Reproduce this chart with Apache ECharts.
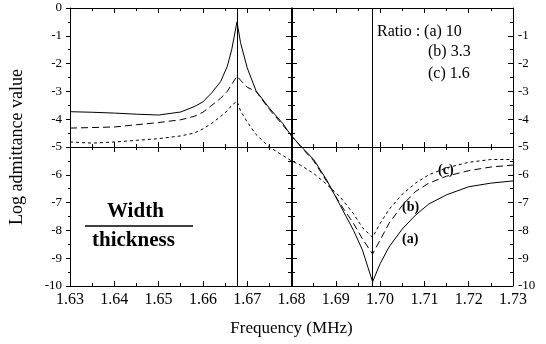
<!DOCTYPE html>
<html>
<head>
<meta charset="utf-8">
<script src="https://cdn.jsdelivr.net/npm/echarts@6/dist/echarts.min.js"></script>
<style>
  html, body { margin: 0; background: #fff; }
  #chart { width: 546px; height: 344px; }
</style>
</head>
<body>
<div id="chart"></div>
<script>
// frequency samples (MHz), shared by the three curves
const freq = [1.630, 1.635, 1.640, 1.645, 1.650, 1.655, 1.658, 1.660, 1.662, 1.664, 1.6655, 1.6665, 1.6677,
  1.6685, 1.670, 1.672, 1.675, 1.678, 1.680, 1.682, 1.685, 1.688, 1.691, 1.694, 1.696, 1.6983,
  1.700, 1.702, 1.705, 1.708, 1.711, 1.715, 1.720, 1.725, 1.730];
// log admittance, ratio (a) 10
const ratioA = [-3.73, -3.75, -3.78, -3.82, -3.85, -3.74, -3.55, -3.38, -3.05, -2.65, -2.1, -1.5, -0.5,
  -1.25, -2.15, -2.98, -3.6, -4.15, -4.6, -4.95, -5.45, -6.2, -7.1, -8.0, -8.7, -9.85,
  -9.2, -8.6, -7.95, -7.45, -7.05, -6.72, -6.43, -6.3, -6.22];
// ratio (b) 3.3
const ratioB = [-4.32, -4.3, -4.28, -4.2, -4.12, -4.02, -3.9, -3.75, -3.5, -3.25, -3.0, -2.75, -2.45,
  -2.6, -2.85, -3.0, -3.65, -4.2, -4.6, -4.97, -5.5, -6.25, -7.05, -7.75, -8.3, -8.85,
  -8.35, -7.75, -7.1, -6.6, -6.3, -6.05, -5.85, -5.72, -5.65];
// ratio (c) 1.6
const ratioC = [-4.82, -4.86, -4.82, -4.76, -4.7, -4.6, -4.5, -4.35, -4.15, -3.9, -3.7, -3.5, -3.35,
  -3.7, -4.1, -4.55, -5.0, -5.3, -5.5, -5.65, -5.95, -6.35, -6.8, -7.4, -7.9, -8.25,
  -7.75, -7.25, -6.7, -6.3, -6.0, -5.75, -5.55, -5.45, -5.45];
// resonance / anti-resonance markers
const markerFreqs = [1.6677, 1.6983];

const serif = 'Liberation Serif';
const W = 546, H = 344;
const grid = { left: 69, right: 33, top: 8, bottom: 58 };
const halfW = (W - grid.left - grid.right) / 2;
const halfH = (H - grid.top - grid.bottom) / 2;

const line = { show: true, onZero: false, lineStyle: { color: '#000', width: 1 } };
const tickIn = { show: true, inside: true, length: 5, lineStyle: { color: '#000' } };
const tickOut = { show: true, inside: false, length: 4, lineStyle: { color: '#000' } };
const minor = { show: true, splitNumber: 2, length: 3, lineStyle: { color: '#000' } };
const noLabel = { show: false };

function xAx(extra) {
  return Object.assign({
    type: 'value', min: 1.63, max: 1.73, interval: 0.01,
    axisLine: line, axisTick: tickIn, minorTick: minor,
    splitLine: { show: false }, axisLabel: noLabel
  }, extra);
}
function yAx(extra) {
  return Object.assign({
    type: 'value', min: -10, max: 0, interval: 1,
    axisLine: line, axisTick: tickIn, minorTick: minor,
    splitLine: { show: false }, axisLabel: noLabel
  }, extra);
}

function series(name, vals, type) {
  return {
    name, type: 'line', data: freq.map((f, i) => [f, vals[i]]),
    symbol: 'none', smooth: false, silent: true,
    lineStyle: { color: '#000', width: 1, type }
  };
}

const chart = echarts.init(document.getElementById('chart'), null, { renderer: 'canvas' });
const sA = series('a', ratioA, 'solid');
sA.markLine = {
  silent: true, symbol: ['none', 'none'], label: { show: false }, precision: 4,
  lineStyle: { color: '#000', type: 'solid', width: 1 },
  data: markerFreqs.map(f => ({ xAxis: f }))
};

const txt = (text, left, top, font) =>
  ({ type: 'text', left, top, style: { text, font, fill: '#000' } });

chart.setOption({
  backgroundColor: '#fff',
  animation: false,
  grid: grid,
  xAxis: [
    xAx({
      position: 'bottom',
      axisLabel: { show: true, color: '#000', fontFamily: serif, fontSize: 16, margin: 6,
        formatter: v => v.toFixed(2) },
      name: 'Frequency (MHz)', nameLocation: 'middle', nameGap: 34,
      nameTextStyle: { color: '#000', fontFamily: serif, fontSize: 17 }
    }),
    xAx({ position: 'top' }),
    xAx({ position: 'bottom', offset: -halfH }),
    xAx({ position: 'top', offset: -halfH })
  ],
  yAxis: [
    yAx({
      position: 'left', axisTick: tickOut,
      minorTick: { show: true, splitNumber: 2, length: 2, lineStyle: { color: '#000' } },
      axisLabel: { show: true, color: '#000', fontFamily: serif, fontSize: 13, margin: 8 },
      name: 'Log admittance value', nameLocation: 'middle', nameGap: 44,
      nameTextStyle: { color: '#000', fontFamily: serif, fontSize: 18 }
    }),
    yAx({
      position: 'right',
      axisLabel: { show: true, color: '#000', fontFamily: serif, fontSize: 13, margin: 5,
        formatter: v => (v === 0 ? '' : String(v)) }
    }),
    yAx({ position: 'left', offset: -halfW }),
    yAx({ position: 'right', offset: -halfW })
  ],
  series: [sA, series('b', ratioB, [7, 4]), series('c', ratioC, [3, 3])],
  graphic: [
    txt('Ratio : (a) 10', 377, 24, '16px "Liberation Serif"'),
    txt('(b) 3.3', 428, 44, '16px "Liberation Serif"'),
    txt('(c) 1.6', 428, 66, '16px "Liberation Serif"'),
    txt('(c)', 438, 163, 'bold 14px "Liberation Serif"'),
    txt('(b)', 402, 200, 'bold 14px "Liberation Serif"'),
    txt('(a)', 402, 232, 'bold 14px "Liberation Serif"'),
    txt('Width', 107, 201, 'bold 21px "Liberation Serif"'),
    { type: 'line', shape: { x1: 85, y1: 226, x2: 193, y2: 226 }, style: { stroke: '#000', lineWidth: 1.5 } },
    txt('thickness', 92, 230, 'bold 21px "Liberation Serif"')
  ]
});
</script>
</body>
</html>
